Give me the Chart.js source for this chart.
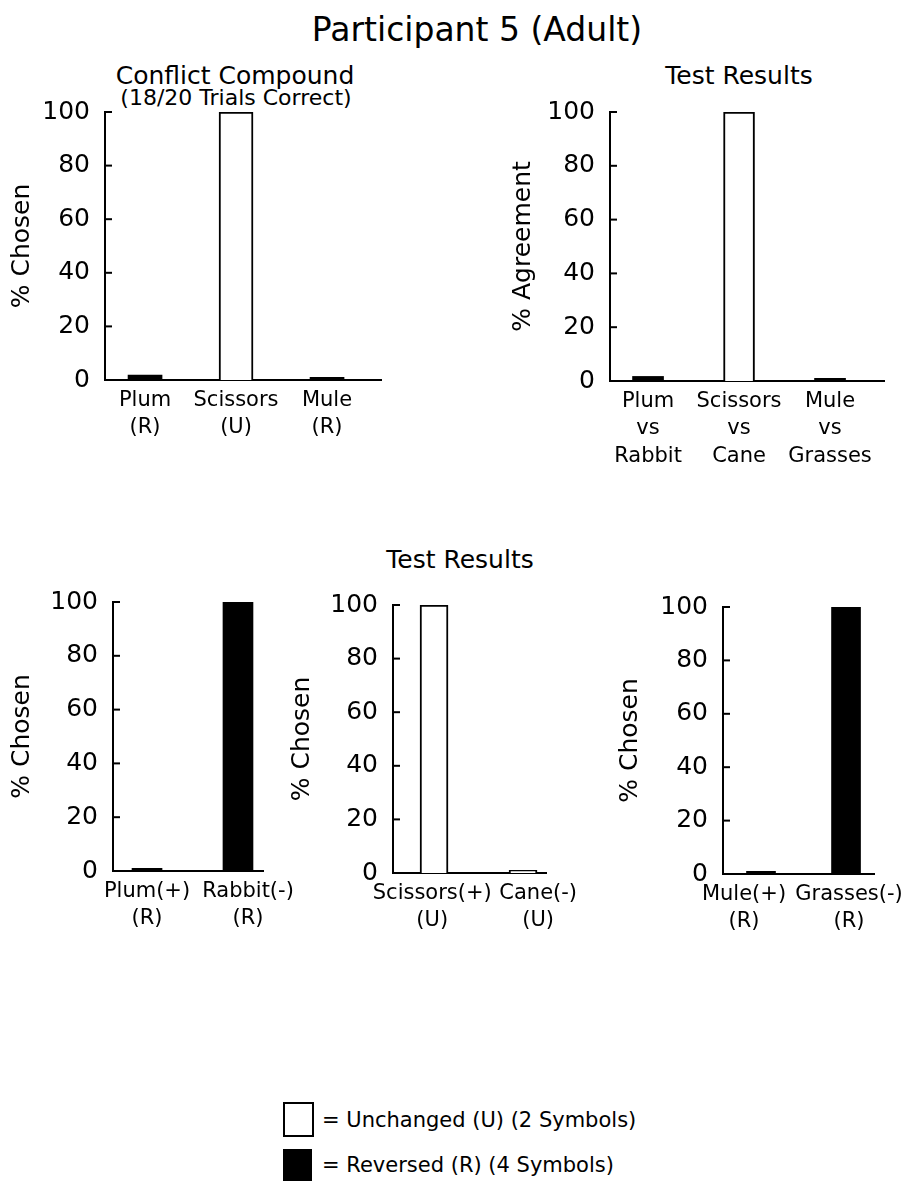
<!DOCTYPE html>
<html>
<head>
<meta charset="utf-8">
<script src="https://cdn.jsdelivr.net/npm/chart.js@4.4.0/dist/chart.umd.min.js"></script>
<style>
  body { margin: 0; background: #fff; width: 907px; height: 1181px; overflow: hidden; position: relative;
         font-family: 'DejaVu Sans', sans-serif; color: #000; }
  .chart { position: absolute; }
  .txt { position: absolute; transform: translate(-50%, -50%); white-space: nowrap; line-height: 1; }
  .leg { position: absolute; transform: translateY(-50%); white-space: nowrap; line-height: 1; font-size: 21px; }
  .swatch { position: absolute; box-sizing: border-box; }
</style>
</head>
<body>

<div class="txt" style="left:477px; top:29px; font-size:33px;">Participant 5 (Adult)</div>
<div class="txt" style="left:235px; top:75px; font-size:25px;">Conflict Compound</div>
<div class="txt" style="left:236px; top:98px; font-size:22px;">(18/20 Trials Correct)</div>
<div class="txt" style="left:739px; top:75px; font-size:25px;">Test Results</div>
<div class="txt" style="left:460px; top:559px; font-size:25px;">Test Results</div>

<div class="chart" style="left:0px; top:80px; width:400px; height:370px;"><canvas id="conflict"></canvas></div>
<div class="chart" style="left:470px; top:80px; width:437px; height:400px;"><canvas id="agreement"></canvas></div>
<div class="chart" style="left:0px; top:570px; width:300px; height:380px;"><canvas id="plum"></canvas></div>
<div class="chart" style="left:280px; top:570px; width:310px; height:380px;"><canvas id="scissors"></canvas></div>
<div class="chart" style="left:580px; top:570px; width:327px; height:380px;"><canvas id="mule"></canvas></div>

<div class="swatch" style="left:283px; top:1102px; width:31px; height:35px; border:2px solid #000; background:#fff;"></div>
<div class="leg" style="left:322px; top:1120px;">= Unchanged (U) (2 Symbols)</div>
<div class="swatch" style="left:283px; top:1149px; width:29px; height:34px; background:#000;"></div>
<div class="leg" style="left:322px; top:1165px;">= Reversed (R) (4 Symbols)</div>

<script>
// valeurs
const yTicks = [0, 20, 40, 60, 80, 100];

const conflictLabels = [['Plum', '(R)'], ['Scissors', '(U)'], ['Mule', '(R)']];
const conflictTypes = ['R', 'U', 'R'];
const conflictValues = [1.8, 100, 1];

const agreementLabels = [['Plum', 'vs', 'Rabbit'], ['Scissors', 'vs', 'Cane'], ['Mule', 'vs', 'Grasses']];
const agreementTypes = ['R', 'U', 'R'];
const agreementValues = [1.7, 100, 1];

const plumLabels = [['Plum(+)', '(R)'], ['Rabbit(-)', '(R)']];
const plumTypes = ['R', 'R'];
const plumValues = [1, 100];

const scissorsLabels = [['Scissors(+)', '(U)'], ['Cane(-)', '(U)']];
const scissorsTypes = ['U', 'U'];
const scissorsValues = [100, 1];

const muleLabels = [['Mule(+)', '(R)'], ['Grasses(-)', '(R)']];
const muleTypes = ['R', 'R'];
const muleValues = [1, 100];

Chart.defaults.font.family = "'DejaVu Sans', sans-serif";
Chart.defaults.color = '#000';

// petits traits de graduation vers l'intérieur
const innerTicks = {
  id: 'innerTicks',
  afterDatasetsDraw(chart) {
    const { ctx, chartArea, scales: { y } } = chart;
    ctx.save();
    ctx.strokeStyle = '#000';
    ctx.lineWidth = 2;
    y.ticks.forEach(t => {
      if (t.value === 0) return;
      const py = y.getPixelForValue(t.value);
      ctx.beginPath();
      ctx.moveTo(chartArea.left, py);
      ctx.lineTo(chartArea.left + 7, py);
      ctx.stroke();
    });
    ctx.restore();
  }
};

function makeChart(id, labels, types, values, g) {
  const shift = g.labelShift || labels.map(() => 0);
  return new Chart(document.getElementById(id), {
    type: 'bar',
    data: {
      datasets: [{
        data: values.map((v, i) => ({ x: i, y: v })),
        backgroundColor: types.map(t => t === 'R' ? '#000' : '#fff'),
        borderColor: '#000',
        borderWidth: types.map(t => t === 'R' ? 0 : 2),
        barThickness: g.barW
      }]
    },
    options: {
      responsive: true,
      maintainAspectRatio: false,
      animation: false,
      layout: { padding: { top: g.padTop, right: g.padRight, left: 0, bottom: 0 } },
      plugins: { legend: { display: false }, tooltip: { enabled: false } },
      scales: {
        x: {
          type: 'linear',
          offset: false,
          min: g.xMin,
          max: g.xMax,
          grid: { display: false, drawTicks: false, offset: false },
          border: { color: '#000', width: 2 },
          // les étiquettes du bas sont un peu décalées des barres dans l'original
          afterBuildTicks: s => { s.ticks = labels.map((_, i) => ({ value: i + shift[i] })); },
          ticks: {
            autoSkip: false, maxRotation: 0, padding: 7,
            font: { size: 21, lineHeight: 1.3 },
            callback: (v, i) => labels[i]
          },
          afterFit: s => { s.height = g.xH; s.paddingLeft = 0; s.paddingRight = 0; }
        },
        y: {
          min: 0,
          max: 100,
          grid: { display: false, drawTicks: false },
          border: { color: '#000', width: 2 },
          afterBuildTicks: s => { s.ticks = yTicks.map(v => ({ value: v })); },
          ticks: { padding: g.tickPad, font: { size: 25 } },
          title: { display: true, text: g.yTitle, font: { size: 25 }, padding: { top: g.titlePad, bottom: 0 } },
          afterFit: s => { s.width = g.axisW; }
        }
      }
    },
    plugins: [innerTicks]
  });
}

makeChart('conflict', conflictLabels, conflictTypes, conflictValues,
  { axisW: 105, xH: 70, padTop: 32, padRight: 19, titlePad: 7, tickPad: 15, xMin: -0.44, xMax: 2.593, barW: 34, yTitle: '% Chosen' });

makeChart('agreement', agreementLabels, agreementTypes, agreementValues,
  { axisW: 140, xH: 99, padTop: 32, padRight: 23, titlePad: 38, tickPad: 15, xMin: -0.418, xMax: 2.593, barW: 31, yTitle: '% Agreement' });

makeChart('plum', plumLabels, plumTypes, plumValues,
  { axisW: 113, xH: 79, padTop: 32, padRight: 37, titlePad: 7, tickPad: 15, xMin: -0.374, xMax: 1.275, barW: 30, yTitle: '% Chosen',
    labelShift: [0, 0.11] });

makeChart('scissors', scissorsLabels, scissorsTypes, scissorsValues,
  { axisW: 113, xH: 77, padTop: 35, padRight: 44, titlePad: 7, tickPad: 15, xMin: -0.461, xMax: 1.258, barW: 28, yTitle: '% Chosen',
    labelShift: [-0.02, 0.17] });

makeChart('mule', muleLabels, muleTypes, muleValues,
  { axisW: 143, xH: 76, padTop: 37, padRight: 33, titlePad: 35, tickPad: 15, xMin: -0.447, xMax: 1.329, barW: 29, yTitle: '% Chosen',
    labelShift: [-0.2, 0.035] });
</script>
</body>
</html>
